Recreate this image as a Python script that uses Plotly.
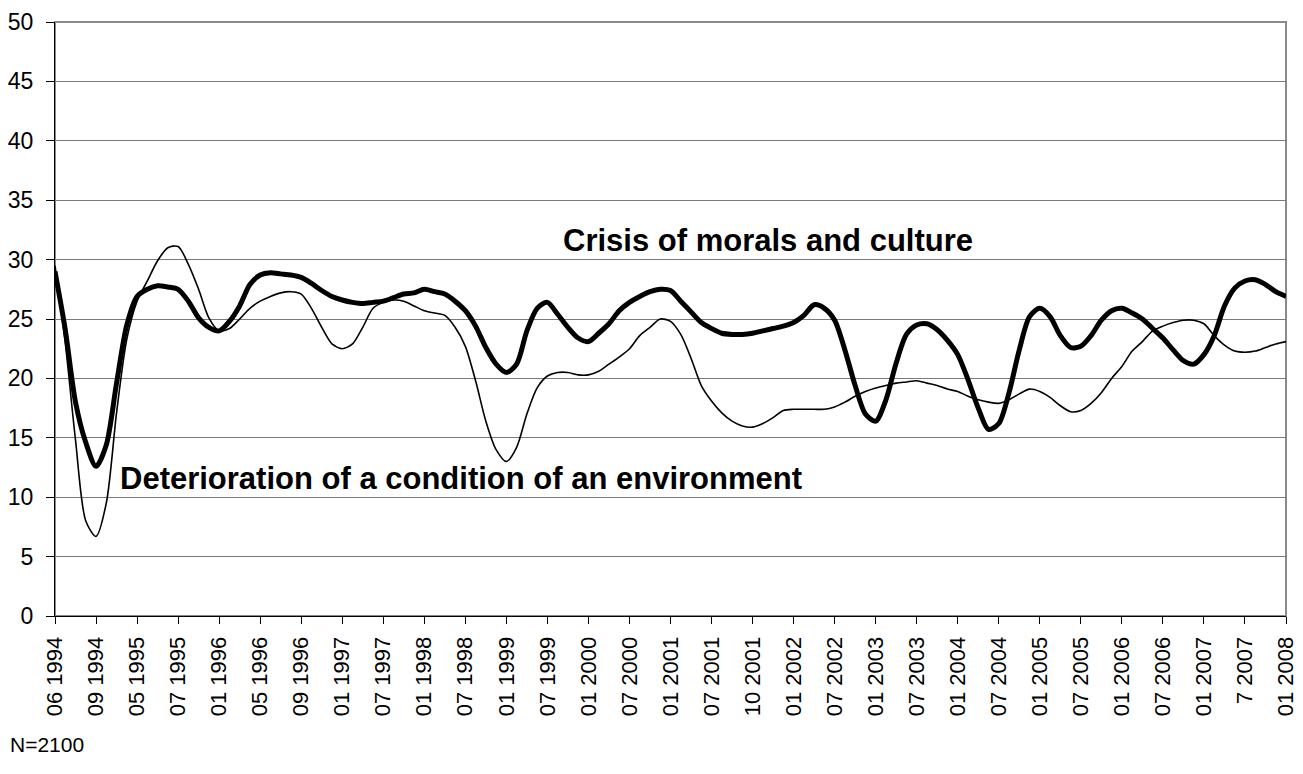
import plotly.graph_objects as go

# Tick labels (every 4th observation is labelled)
tick_labels = ["06 1994", "09 1994", "05 1995", "07 1995", "01 1996", "05 1996", "09 1996",
               "01 1997", "07 1997", "01 1998", "07 1998", "01 1999", "07 1999", "01 2000",
               "07 2000", "01 2001", "07 2001", "10 2001", "01 2002", "07 2002", "01 2003",
               "07 2003", "01 2004", "07 2004", "01 2005", "07 2005", "01 2006", "07 2006",
               "01 2007", "7 2007", "01 2008"]
points_per_label = 4

# Crisis of morals and culture (thick line)
morals = [29.0, 24.1, 18.0, 14.6, 12.6, 14.4, 19.6, 24.5, 26.9, 27.5, 27.8, 27.7, 27.5, 26.5, 25.1, 24.3,
          24.0, 24.8, 26.1, 27.9, 28.7, 28.9, 28.8, 28.7, 28.5, 28.0, 27.4, 26.9, 26.6, 26.4, 26.3, 26.4,
          26.5, 26.8, 27.1, 27.2, 27.5, 27.3, 27.1, 26.5, 25.7, 24.4, 22.6, 21.2, 20.5, 21.2, 24.0, 25.9,
          26.4, 25.4, 24.3, 23.4, 23.1, 23.8, 24.6, 25.7, 26.4, 26.9, 27.3, 27.5, 27.4, 26.5, 25.6, 24.7,
          24.2, 23.8, 23.7, 23.7, 23.8, 24.0, 24.2, 24.4, 24.7, 25.3, 26.2, 25.9, 24.9, 22.4, 19.4, 17.0,
          16.4, 18.2, 21.3, 23.7, 24.5, 24.6, 24.1, 23.2, 22.0, 19.9, 17.5, 15.7, 16.2, 18.8, 22.4, 25.2,
          25.9, 25.2, 23.6, 22.6, 22.7, 23.6, 24.9, 25.7, 25.9, 25.5, 25.0, 24.2, 23.4, 22.4, 21.5, 21.2,
          22.0, 23.6, 26.1, 27.6, 28.2, 28.3, 27.9, 27.3, 26.9]

# Deterioration of a condition of an environment (thin line)
environment = [29.5, 23.0, 14.8, 8.0, 6.7, 9.5, 17.1, 23.3, 26.5, 28.2, 29.9, 31.0, 31.1, 29.6, 27.5, 25.1,
               24.0, 24.2, 25.0, 25.9, 26.5, 26.9, 27.2, 27.3, 27.1, 25.9, 24.3, 22.9, 22.5, 22.9, 24.3, 25.9,
               26.4, 26.6, 26.5, 26.1, 25.7, 25.5, 25.3, 24.3, 22.7, 19.8, 16.4, 14.0, 13.0, 14.2, 17.0, 19.2,
               20.2, 20.5, 20.5, 20.3, 20.3, 20.6, 21.2, 21.8, 22.5, 23.6, 24.3, 25.0, 24.8, 23.7, 21.7, 19.4,
               18.1, 17.1, 16.4, 16.0, 15.9, 16.2, 16.7, 17.3, 17.4, 17.4, 17.4, 17.4, 17.6, 18.0, 18.5, 18.9,
               19.2, 19.4, 19.6, 19.7, 19.8, 19.6, 19.4, 19.1, 18.9, 18.5, 18.2, 18.0, 17.9, 18.2, 18.7, 19.1,
               18.9, 18.4, 17.7, 17.2, 17.3, 17.9, 18.8, 20.0, 21.0, 22.3, 23.1, 24.0, 24.4, 24.7, 24.9, 24.9,
               24.6, 23.6, 22.8, 22.3, 22.2, 22.3, 22.6, 22.9, 23.1]

idx = list(range(len(morals)))
tick_vals = [i * points_per_label for i in range(len(tick_labels))]

FONT = "Liberation Sans, Arial, sans-serif"

fig = go.Figure()
fig.add_trace(go.Scatter(x=idx, y=environment, mode="lines", name="Deterioration of a condition of an environment",
                         line=dict(color="black", width=1.6, shape="spline", smoothing=0.8)))
fig.add_trace(go.Scatter(x=idx, y=morals, mode="lines", name="Crisis of morals and culture",
                         line=dict(color="black", width=5, shape="spline", smoothing=0.8)))

fig.update_layout(
    width=1303, height=774,
    margin=dict(l=55, r=17, t=22, b=158),
    paper_bgcolor="white", plot_bgcolor="white",
    showlegend=False,
    font=dict(family=FONT, size=22, color="black"),
    xaxis=dict(range=[0, idx[-1]], tickmode="array", tickvals=tick_vals, ticktext=tick_labels,
               tickangle=-90, ticks="outside", ticklen=7, tickcolor="black", automargin=False,
               ticklabelstandoff=4,
               showline=True, linecolor="black", linewidth=1, showgrid=False, zeroline=False,
               tickfont=dict(size=22, family=FONT)),
    yaxis=dict(range=[0, 50], dtick=5, ticks="outside", ticklen=8, tickcolor="black", automargin=False,
               ticklabelstandoff=8,
               showline=True, linecolor="black", linewidth=1, showgrid=True,
               gridcolor="#7a7a7a", gridwidth=1, zeroline=False,
               tickfont=dict(size=23, family=FONT)),
    shapes=[dict(type="rect", xref="paper", yref="paper", x0=0, y0=0, x1=1, y1=1,
                 line=dict(color="#8a8a8a", width=2), layer="below")],
    annotations=[
        dict(x=49.3, y=31.6, xref="x", yref="y", text="<b>Crisis of morals and culture</b>",
             showarrow=False, xanchor="left", yanchor="middle", font=dict(size=31, family=FONT)),
        dict(x=6.1, y=11.6, xref="x", yref="y", text="<b>Deterioration of a condition of an environment</b>",
             showarrow=False, xanchor="left", yanchor="middle", font=dict(size=31, family=FONT)),
        dict(x=-0.038, y=-0.217, xref="paper", yref="paper", text="N=2100",
             showarrow=False, xanchor="left", yanchor="middle", font=dict(size=21, family=FONT)),
    ],
)

fig.write_html("out.html", config={"displayModeBar": False},
               post_script="document.body.style.margin='0px';")
